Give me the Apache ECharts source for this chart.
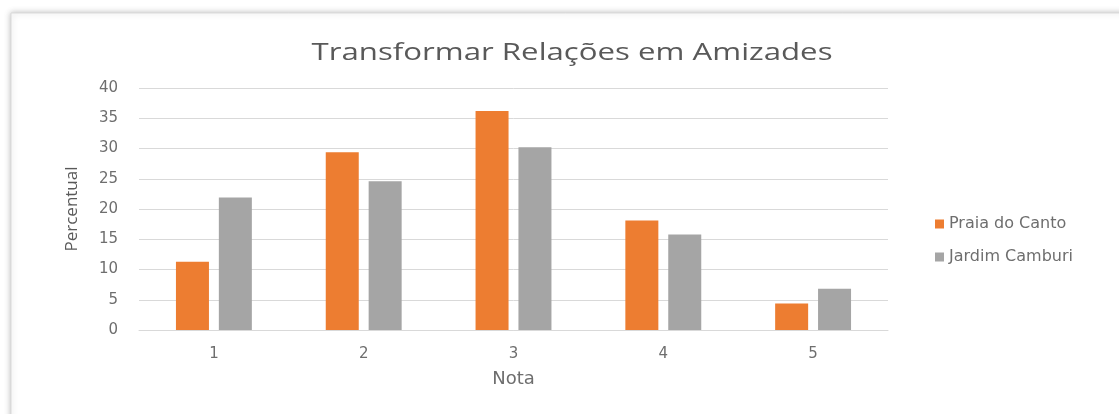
<!DOCTYPE html>
<html>
<head>
<meta charset="utf-8">
<script src="https://cdn.jsdelivr.net/npm/echarts@6/dist/echarts.min.js"></script>
<style>
html,body{margin:0;padding:0;background:#fff;}
#c{width:1119px;height:414px;}
</style>
</head>
<body>
<div id="c"></div>
<script>
var titleText = 'Transformar Relações em Amizades';
var categories = ['1', '2', '3', '4', '5'];
var praiaDoCanto = [11.3, 29.4, 36.2, 18.1, 4.4];
var jardimCamburi = [21.9, 24.6, 30.2, 15.8, 6.8];
var yTicks = [0, 5, 10, 15, 20, 25, 30, 35, 40];

var chart = echarts.init(document.getElementById('c'));
var textColor = '#595959';
var labelColor = '#6e6e6e';
var wideFont = 'DejaVu Sans';
chart.setOption({
  animation: false,
  backgroundColor: '#ffffff',
  graphic: [{
    type: 'rect',
    shape: {x: 11, y: 13, width: 1120, height: 420},
    style: {fill: '#ffffff', stroke: '#d9d9d9', lineWidth: 1, shadowBlur: 6, shadowColor: 'rgba(0,0,0,0.25)'},
    z: -10
  }, {
    type: 'text',
    x: 572, y: 53, scaleX: 1.3,
    style: {text: titleText, textAlign: 'center', textVerticalAlign: 'middle',
      fontFamily: 'Open Sans', fontSize: 24, fill: textColor}
  }],
  legend: {
    orient: 'vertical', left: 930, top: 211, itemGap: 17,
    itemWidth: 9, itemHeight: 9, icon: 'rect',
    textStyle: {fontFamily: wideFont, fontSize: 16, color: labelColor}
  },
  grid: {left: 139, right: 231, top: 88, bottom: 84, containLabel: false},
  xAxis: {
    type: 'category', data: categories,
    name: 'Nota', nameLocation: 'middle', nameGap: 40,
    nameTextStyle: {fontFamily: wideFont, fontSize: 18, color: labelColor},
    axisLine: {lineStyle: {color: '#d9d9d9'}},
    axisTick: {show: false},
    axisLabel: {fontFamily: wideFont, fontSize: 15, color: labelColor, margin: 17}
  },
  yAxis: {
    type: 'value', min: 0, max: 40, interval: 5,
    name: 'Percentual', nameLocation: 'middle', nameGap: 58, nameRotate: 90,
    nameTextStyle: {fontFamily: 'Open Sans', fontSize: 17, color: textColor},
    axisLine: {show: false}, axisTick: {show: false},
    splitLine: {lineStyle: {color: '#d9d9d9', width: 1}},
    axisLabel: {fontFamily: wideFont, fontSize: 15, color: labelColor, margin: 21,
      formatter: function (v) { return yTicks.indexOf(v) >= 0 ? String(v) : ''; }}
  },
  series: [{
    name: 'Praia do Canto', type: 'bar', data: praiaDoCanto,
    barWidth: 33, barGap: '30%',
    itemStyle: {color: '#ed7d31'}
  }, {
    name: 'Jardim Camburi', type: 'bar', data: jardimCamburi,
    barWidth: 33, barGap: '30%',
    itemStyle: {color: '#a5a5a5'}
  }]
});
</script>
</body>
</html>
